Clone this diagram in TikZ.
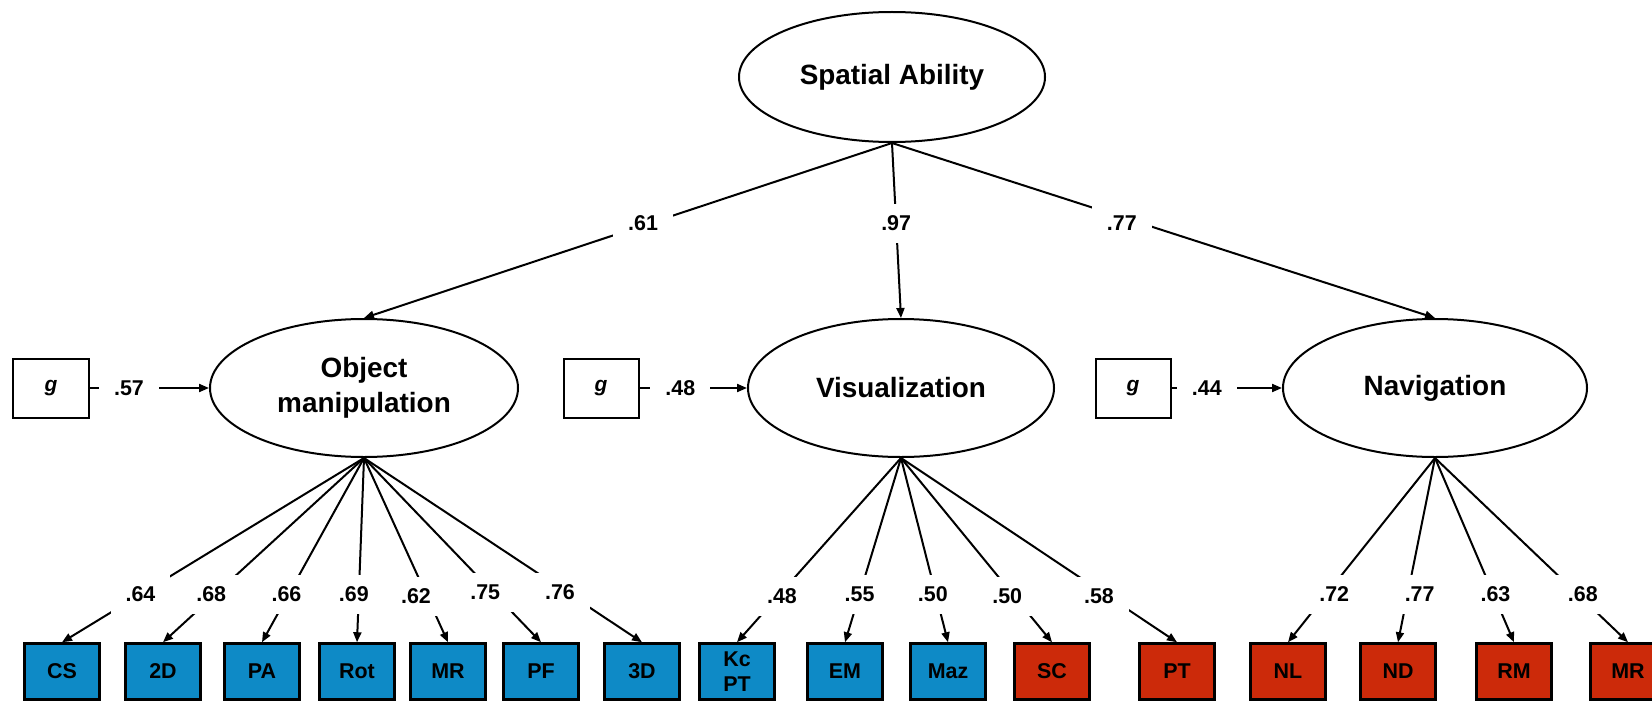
\documentclass[tikz,border=0pt]{standalone}
\usepackage{fontspec}
\setmainfont{Liberation Sans}
\usetikzlibrary{arrows.meta,shapes.geometric}
\definecolor{boxblue}{RGB}{14,138,198}
\definecolor{boxred}{RGB}{204,42,10}
\begin{document}
\begin{tikzpicture}[x=1bp,y=-1bp,
  lat/.style={ellipse, draw, line width=2bp, inner sep=0pt, align=center,
    font=\fontsize{28}{35}\selectfont\bfseries},
  ind/.style={draw, line width=2.5bp, minimum width=75bp, minimum height=56bp,
    inner sep=0pt, align=center, font=\fontsize{21.5}{25}\selectfont\bfseries},
  blu/.style={ind, fill=boxblue},
  rd/.style={ind, fill=boxred},
  gbox/.style={draw, line width=2bp, fill=white, minimum width=75bp, minimum height=59bp,
    inner sep=0pt, font=\fontsize{21}{25}\selectfont\bfseries\itshape},
  lab/.style={fill=white, inner xsep=15bp, inner ysep=12bp,
    font=\fontsize{21.5}{25}\selectfont\bfseries},
  conn/.style={line width=2bp, -{Triangle[length=10bp,width=8bp]}},
]
\useasboundingbox (0,0) rectangle (1652,701);
\clip (0,0) rectangle (1652,701);
\fill[white] (0,0) rectangle (1652,701);

% latent factors
\node[lat, minimum width=306bp, minimum height=130bp] (sa) at (892,77) {Spatial Ability};
\node[lat, minimum width=308bp, minimum height=138bp] (om) at (364,388) {Object\\manipulation};
\node[lat, minimum width=306bp, minimum height=138bp] (vis) at (901,388) {Visualization};
\node[lat, minimum width=304bp, minimum height=138bp] (nav) at (1435,388) {Navigation};

% g boxes
\node[gbox] (g1) at (51,388) {g};
\node[gbox] (g2) at (601,388) {g};
\node[gbox] (g3) at (1133,388) {g};

% indicators
\node[blu] (cs) at (62,671.5) {CS};
\node[blu] (d2) at (163,671.5) {2D};
\node[blu] (pa) at (262,671.5) {PA};
\node[blu] (rot) at (357,671.5) {Rot};
\node[blu] (mr1) at (448,671.5) {MR};
\node[blu] (pf) at (541,671.5) {PF};
\node[blu] (d3) at (642,671.5) {3D};
\node[blu] (kc) at (737,671.5) {Kc\\PT};
\node[blu] (em) at (845,671.5) {EM};
\node[blu] (maz) at (948,671.5) {Maz};
\node[rd] (sc) at (1052,671.5) {SC};
\node[rd] (pt) at (1177,671.5) {PT};
\node[rd] (nl) at (1288,671.5) {NL};
\node[rd] (nd) at (1398,671.5) {ND};
\node[rd] (rm) at (1514,671.5) {RM};
\node[rd] (mr2) at (1628,671.5) {MR};

% second-order loadings
\draw[conn] (sa.south) -- node[lab, pos=0.46, xshift=-6bp] {.61} (om.north);
\draw[conn] (sa.south) -- node[lab, pos=0.46] {.97} (vis.north);
\draw[conn] (sa.south) -- node[lab, pos=0.46, xshift=-20bp] {.77} (nav.north);

% g paths
\draw[conn] (g1.east) -- node[lab, pos=0.33] {.57} (om.west);
\draw[conn] (g2.east) -- node[lab, pos=0.38] {.48} (vis.west);
\draw[conn] (g3.east) -- node[lab, pos=0.32] {.44} (nav.west);

% first-order loadings
\draw[conn] (om.south) -- node[lab, pos=0.74] {.64} (cs.north);
\draw[conn] (om.south) -- node[lab, pos=0.74, xshift=-4bp] {.68} (d2.north);
\draw[conn] (om.south) -- node[lab, pos=0.74, xshift=-2bp] {.66} (pa.north);
\draw[conn] (om.south) -- node[lab, pos=0.74, xshift=-5bp] {.69} (rot.north);
\draw[conn] (om.south) -- node[lab, pos=0.75, xshift=-11bp] {.62} (mr1.north);
\draw[conn] (om.south) -- node[lab, pos=0.73, xshift=-8bp] {.75} (pf.north);
\draw[conn] (om.south) -- node[lab, pos=0.73, xshift=-7bp] {.76} (d3.north);

\draw[conn] (vis.south) -- node[lab, pos=0.75, xshift=4bp] {.48} (kc.north);
\draw[conn] (vis.south) -- node[lab, pos=0.74] {.55} (em.north);
\draw[conn] (vis.south) -- node[lab, pos=0.74, xshift=-3bp] {.50} (maz.north);
\draw[conn] (vis.south) -- node[lab, pos=0.75, xshift=-7bp] {.50} (sc.north);
\draw[conn] (vis.south) -- node[lab, pos=0.75, xshift=-9bp] {.58} (pt.north);

\draw[conn] (nav.south) -- node[lab, pos=0.74, xshift=8bp] {.72} (nl.north);
\draw[conn] (nav.south) -- node[lab, pos=0.74, xshift=12bp] {.77} (nd.north);
\draw[conn] (nav.south) -- node[lab, pos=0.74, xshift=2bp] {.63} (rm.north);
\draw[conn] (nav.south) -- node[lab, pos=0.74, xshift=5bp] {.68} (mr2.north);
\end{tikzpicture}
\end{document}
